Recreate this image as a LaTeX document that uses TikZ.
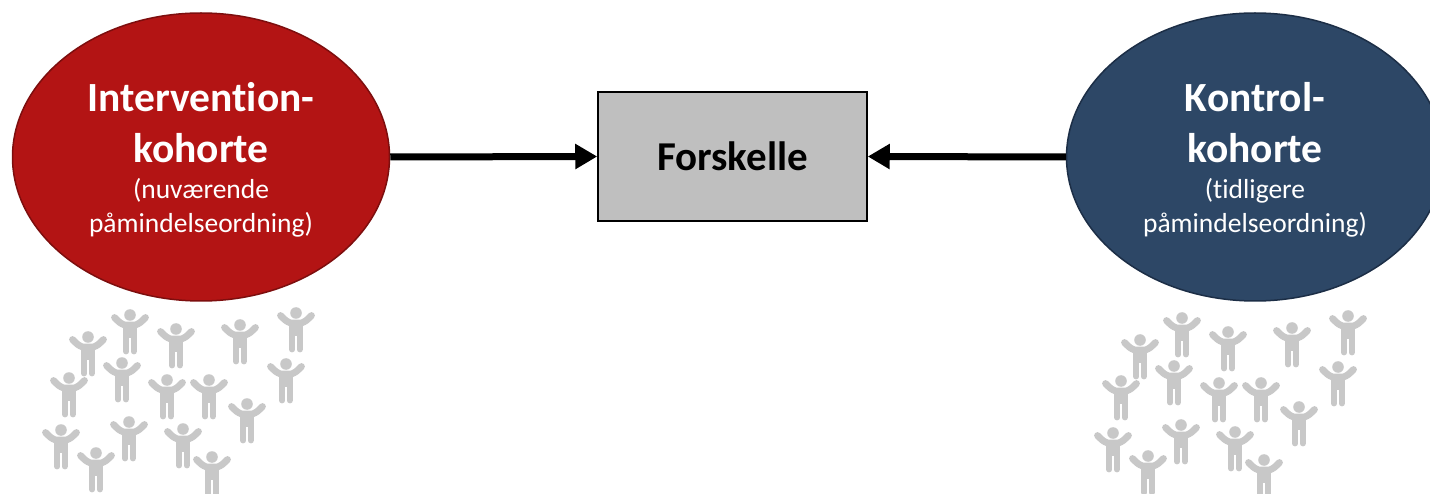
\documentclass[tikz,border=0pt]{standalone}
\usepackage{fontspec}
\setmainfont{Carlito}[Ligatures=NoCommon]
\usetikzlibrary{shapes.geometric,arrows.meta}
\definecolor{redfill}{RGB}{179,20,20}
\definecolor{redline}{RGB}{125,14,14}
\definecolor{bluefill}{RGB}{45,71,102}
\definecolor{blueline}{RGB}{28,46,70}
\definecolor{boxfill}{RGB}{191,191,191}
\definecolor{persongray}{RGB}{200,200,200}
\tikzset{
  cohort/.style={ellipse, minimum width=377pt, minimum height=288pt, inner sep=0pt, line width=1.5pt},
  titletext/.style={anchor=base, text=white, inner sep=0pt, font=\bfseries\fontsize{41.5}{50}\selectfont},
  subtext/.style={anchor=base, text=white, inner sep=0pt, font=\fontsize{27.5}{33}\selectfont},
  diffbox/.style={rectangle, draw=black, fill=boxfill, line width=1.5pt, minimum width=269pt, minimum height=129pt, inner sep=0pt, font=\bfseries\fontsize{41}{49}\selectfont},
  bigarrow/.style={draw=black, line width=7pt, -{Triangle[length=22pt,width=24pt]}},
  person/.pic={
    \fill[persongray] (0,0) circle (5.8);
    \draw[persongray, line width=6.8pt, line cap=round, line join=round] (-15.5,2.5) .. controls (-10,8) .. (-5.5,10) -- (5.5,10) .. controls (10,8) .. (15.5,2.5);
    \fill[persongray] (-6.6,8) rectangle (6.6,23);
    \draw[persongray, line width=5.8pt, line cap=round] (-3.7,21) -- (-3.7,36.5) (3.7,21) -- (3.7,36.5);
  }
}
\begin{document}
\begin{tikzpicture}[x=1pt,y=-1pt]
\useasboundingbox (0,0) rectangle (1430,494);
% people
\foreach \dx/\dy in {0/0,1052/3}{
  \begin{scope}[shift={(\dx,\dy)}]
  \foreach \px/\py in {130/315,296/313,88/337,176/329,240/325,122/363,286/364,69/378,167/380,209/380,247/404,61/430,129/422,183/429,96/453,212/457}{
    \pic at (\px,\py) {person};
  }
  \end{scope}
}
% ellipses
\node[cohort, fill=redfill, draw=redline] (int) at (201,157) {};
\node[cohort, fill=bluefill, draw=blueline] (ctl) at (1255,157) {};
% box
\node[diffbox] (box) at (732.5,156.5) {Forskelle};
% arrows
\draw[bigarrow] (int.east) -- (box.west);
\draw[bigarrow] (ctl.west) -- (box.east);
% texts
\node[titletext] (intA) at (201,112) {Intervention-};
\node[titletext] (intB) at (201,163) {kohorte};
\node[subtext] (intC) at (201,199) {(nuværende};
\node[subtext] (intD) at (201,233) {påmindelseordning)};
\node[titletext] (ctlA) at (1255,112) {Kontrol-};
\node[titletext] (ctlB) at (1255,163) {kohorte};
\node[subtext] (ctlC) at (1255,199) {(tidligere};
\node[subtext] (ctlD) at (1255,233) {påmindelseordning)};
\end{tikzpicture}
\end{document}
